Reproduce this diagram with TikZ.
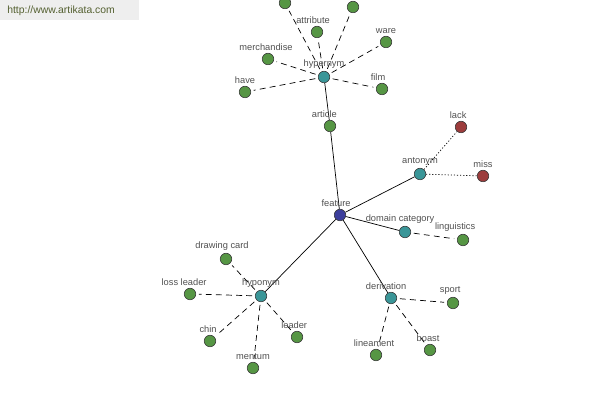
\documentclass[tikz,border=0pt]{standalone}
\usepackage{fontspec}
\setmainfont{Liberation Sans}
\definecolor{WordColor}{RGB}{86,150,68}
\definecolor{RelColor}{RGB}{58,150,152}
\definecolor{RootColor}{RGB}{60,62,156}
\definecolor{OppColor}{RGB}{156,60,60}
\definecolor{LabelColor}{RGB}{80,80,80}
\definecolor{MarkColor}{RGB}{84,96,48}
\definecolor{MarkBack}{RGB}{238,238,238}
\usetikzlibrary{backgrounds}
\tikzstyle{dot} = [circle, draw=black!80, line width=0.4pt, inner sep=0pt, minimum size=8.2pt]
\tikzstyle{word} = [dot, fill=WordColor]
\tikzstyle{rel} = [dot, fill=RelColor]
\tikzstyle{root} = [dot, fill=RootColor]
\tikzstyle{opp} = [dot, fill=OppColor]
\tikzstyle{lbl} = [text=LabelColor, inner sep=0pt, font=\fontsize{6.6}{7}\selectfont, label distance=1.3pt]
\tikzstyle{link} = [line width=0.5pt, black]
\tikzstyle{dlink} = [line width=0.5pt, black, dash pattern=on 4.2pt off 3pt, shorten >=2pt, shorten <=2pt]
\tikzstyle{olink} = [line width=0.5pt, black, dash pattern=on 0.8pt off 1.4pt]

\begin{document}
\begin{tikzpicture}[x=0.025cm, y=-0.025cm]
    \useasboundingbox (0,0) rectangle (600,400);
    \clip (0,0) rectangle (600,400);

    % Watermark
    \fill[MarkBack] (0,0) rectangle (139,20);
    \node[anchor=west, inner sep=0pt, text=MarkColor, font=\fontsize{7.4}{8}\selectfont] (mark) at (7,11) {http://www.artikata.com};

    % Centre
    \node[root, label={[lbl, xshift=-2.8pt]90:feature}] (feature) at (340,215) {};

    % Hypernyms
    \node[rel, label={[lbl]90:hypernym}] (hypernym) at (324,77) {};
    \node[word, label={[lbl, xshift=-4pt]90:article}] (article) at (330,126) {};
    \node[word] (hyperA) at (285,3) {};
    \node[word] (hyperB) at (353,7) {};
    \node[word, label={[lbl, xshift=-2.8pt]90:attribute}] (attribute) at (317,32) {};
    \node[word, label={[lbl]90:ware}] (ware) at (386,42) {};
    \node[word, label={[lbl, xshift=-1.4pt]90:merchandise}] (merchandise) at (268,59) {};
    \node[word, label={[lbl]90:have}] (have) at (245,92) {};
    \node[word, label={[lbl, xshift=-2.8pt]90:film}] (film) at (382,89) {};

    % Antonyms
    \node[rel, label={[lbl]90:antonym}] (antonym) at (420,174) {};
    \node[opp, label={[lbl, xshift=-2pt]90:lack}] (lack) at (461,127) {};
    \node[opp, label={[lbl]90:miss}] (miss) at (483,176) {};

    % Domain category
    \node[rel, label={[lbl, xshift=-3.5pt]90:domain category}] (domcat) at (405,232) {};
    \node[word, label={[lbl, xshift=-5.6pt]90:linguistics}] (linguistics) at (463,240) {};

    % Derivation
    \node[rel, label={[lbl, xshift=-3.5pt]90:derivation}] (derivation) at (391,298) {};
    \node[word, label={[lbl, xshift=-2pt]90:sport}] (sport) at (453,303) {};
    \node[word, label={[lbl, xshift=-1.4pt]90:boast}] (boast) at (430,350) {};
    \node[word, label={[lbl, xshift=-1.4pt]90:lineament}] (lineament) at (376,355) {};

    % Hyponyms
    \node[rel, label={[lbl]90:hyponym}] (hyponym) at (261,296) {};
    \node[word, label={[lbl, xshift=-2.8pt]90:drawing card}] (drawcard) at (226,259) {};
    \node[word, label={[lbl, xshift=-4.2pt]90:loss leader}] (lossleader) at (190,294) {};
    \node[word, label={[lbl, xshift=-1.4pt]90:chin}] (chin) at (210,341) {};
    \node[word, label={[lbl]90:mentum}] (mentum) at (253,368) {};
    \node[word, label={[lbl, xshift=-2pt]90:leader}] (leader) at (297,337) {};

    % Links
    \begin{scope}[on background layer]
        \draw[link] (feature) -- (article);
        \draw[link] (article) -- (hypernym);
        \draw[link] (feature) -- (antonym);
        \draw[link] (feature) -- (domcat);
        \draw[link] (feature) -- (derivation);
        \draw[link] (feature) -- (hyponym);
        \foreach \w in {hyperA, hyperB, attribute, ware, merchandise, have, film}
            \draw[dlink] (hypernym) -- (\w);
        \foreach \w in {lack, miss}
            \draw[olink] (antonym) -- (\w);
        \draw[dlink] (domcat) -- (linguistics);
        \foreach \w in {sport, boast, lineament}
            \draw[dlink] (derivation) -- (\w);
        \foreach \w in {drawcard, lossleader, chin, mentum, leader}
            \draw[dlink] (hyponym) -- (\w);
    \end{scope}
\end{tikzpicture}
\end{document}
